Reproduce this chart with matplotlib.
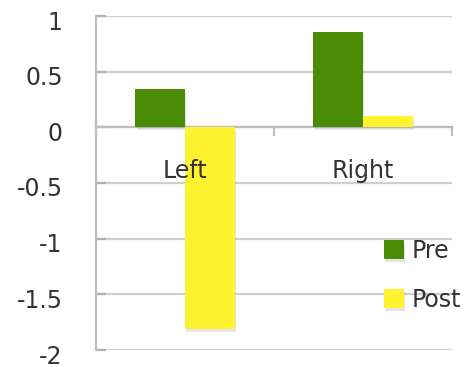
import numpy as np
import matplotlib
matplotlib.use('Agg')
import matplotlib.pyplot as plt
import matplotlib.patheffects as pe
import matplotlib.transforms as mtransforms

# pre / post values for each side
sides = ['Left', 'Right']
pre = [0.34, 0.86]
post = [-1.815, 0.10]

green = '#4a8c06'
yellow = '#fff22e'
grid_col = '#cfcfcf'
axis_col = '#bdbdbd'
text_col = '#333333'

plt.rcParams['font.family'] = 'DejaVu Sans'

fig = plt.figure(figsize=(4.71, 3.67), dpi=100)
ax = fig.add_axes([96/471, 17/367, (452-96)/471, (350-16)/367])

x = np.arange(len(sides))
w = 0.28
shadow = [pe.SimplePatchShadow(offset=(1, -2), shadow_rgbFace='#999999', alpha=0.25), pe.Normal()]
b1 = ax.bar(x - w/2, pre, width=w, color=green, label='Pre', zorder=3)
b2 = ax.bar(x + w/2, post, width=w, color=yellow, label='Post', zorder=3)
for bar in list(b1) + list(b2):
    bar.set_path_effects(shadow)

ax.set_xlim(-0.5, 1.5)
ax.set_ylim(-2, 1)
ax.set_yticks(np.arange(-2, 1.01, 0.5))
ax.set_yticklabels(['-2', '-1.5', '-1', '-0.5', '0', '0.5', '1'])
ax.yaxis.grid(True, color=grid_col, linewidth=1.6, zorder=0)
ax.set_axisbelow(True)

for s in ['top', 'right']:
    ax.spines[s].set_visible(False)
ax.spines['left'].set_color(axis_col)
ax.spines['left'].set_linewidth(1.6)
ax.spines['bottom'].set_position(('data', 0))
ax.spines['bottom'].set_color(axis_col)
ax.spines['bottom'].set_linewidth(1.6)

ax.tick_params(axis='y', direction='in', length=7, width=1.6, color='#b0b0b0',
               pad=24, labelsize=17, labelcolor=text_col)
# nudge the value labels a little below their gridlines
shift = mtransforms.ScaledTranslation(0, -4/100, fig.dpi_scale_trans)
for lbl in ax.get_yticklabels():
    lbl.set_transform(lbl.get_transform() + shift)

# category boundaries as ticks on the zero line
ax.set_xticks([-0.5, 0.5, 1.5])
ax.set_xticklabels([])
ax.tick_params(axis='x', direction='out', length=6.5, width=1.6, color=axis_col)

# category names sit under the zero line, drawn over the bars
for i, name in enumerate(sides):
    ax.annotate(name, xy=(i, 0), xytext=(0, -44), textcoords='offset pixels',
                ha='center', va='center', fontsize=17, color=text_col, zorder=5)

ax.legend(loc='upper left', bbox_to_anchor=(384/471, (367-239)/367), bbox_transform=fig.transFigure,
          frameon=False, fontsize=17, handlelength=0.85, handleheight=0.85,
          handletextpad=0.3, labelspacing=1.05, borderpad=0, borderaxespad=0,
          labelcolor=text_col)

fig.savefig('out.png', dpi=100)
